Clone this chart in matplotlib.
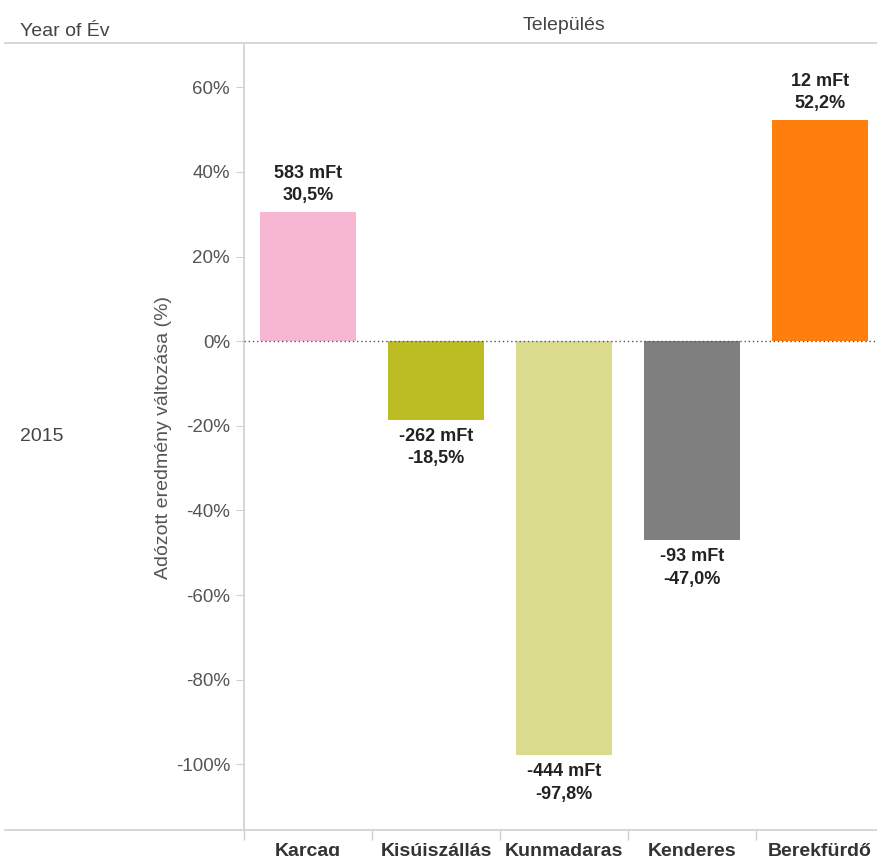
import matplotlib
matplotlib.use("Agg")
import matplotlib.pyplot as plt
from matplotlib.lines import Line2D
from matplotlib.ticker import FixedLocator

plt.rcParams['font.family'] = ['Liberation Sans', 'DejaVu Sans']

categories = ["Karcag", "Kisújszállás", "Kunmadaras", "Kenderes", "Berekfürdő"]
pct_change = [30.5, -18.5, -97.8, -47.0, 52.2]
mft_change = [583, -262, -444, -93, 12]
colors = ["#f7b6d2", "#bcbd22", "#dbdb8d", "#7f7f7f", "#ff7f0e"]
y_ticks = [60, 40, 20, 0, -20, -40, -60, -80, -100]
year_label = "2015"

W, H = 877, 856
fig = plt.figure(figsize=(W / 100, H / 100), dpi=100)

ax_left, ax_top, ax_bottom, ax_right = 244, 45, 830, 877
ax = fig.add_axes([ax_left / W, (H - ax_bottom) / H,
                   (ax_right - ax_left) / W, (ax_bottom - ax_top) / H])

x = list(range(len(categories)))
ax.bar(x, pct_change, width=0.75, color=colors, zorder=2)

ax.set_ylim(-115.5, 70)
ax.set_xlim(-0.5, -0.5 + (ax_right - ax_left) / 128)

ax.axhline(0, color="#555555", linestyle=(0, (1, 2)), linewidth=1, zorder=3)

for xi, p, m in zip(x, pct_change, mft_change):
    txt = f"{m} mFt\n{p:.1f}%".replace(".", ",")
    if p >= 0:
        ax.annotate(txt, (xi, p), xytext=(0, 6), textcoords="offset points",
                    ha="center", va="bottom", fontsize=13, fontweight="bold",
                    color="#222222", linespacing=1.4)
    else:
        ax.annotate(txt, (xi, p), xytext=(0, -6), textcoords="offset points",
                    ha="center", va="top", fontsize=13, fontweight="bold",
                    color="#222222", linespacing=1.4)

ax.set_yticks(y_ticks)
ax.set_yticklabels([f"{t}%" for t in y_ticks], fontsize=13.5, color="#555555")
ax.tick_params(axis="y", length=6, color="#d0d0d0", pad=4)

ax.set_xticks(x)
ax.set_xticklabels(categories, fontsize=14, fontweight="bold", color="#333333")
ax.tick_params(axis="x", which="major", length=0, pad=9)
ax.xaxis.set_minor_locator(FixedLocator([i - 0.5 for i in x]))
ax.tick_params(axis="x", which="minor", length=7, color="#d0d0d0", width=1)

for s in ["top", "right", "bottom"]:
    ax.spines[s].set_visible(False)
ax.spines["left"].set_color("#d0d0d0")
ax.spines["left"].set_linewidth(1.2)

ax.set_ylabel("Adózott eredmény változása (%)", fontsize=14, color="#555555")
ax.yaxis.set_label_coords((172 - ax_left) / (ax_right - ax_left), 0.5)

# header / frame lines
fig.add_artist(Line2D([5 / W, 1], [1 - 43 / H, 1 - 43 / H], color="#d0d0d0", linewidth=1.2))
fig.add_artist(Line2D([5 / W, 1], [1 - 830 / H, 1 - 830 / H], color="#d0d0d0", linewidth=1.2))

fig.text(20 / W, 1 - 32 / H, "Year of Év", fontsize=14, color="#444444", va="center", ha="left")
fig.text(564 / W, 1 - 26 / H, "Település", fontsize=14, color="#444444", va="center", ha="center")
fig.text(20 / W, 1 - 437 / H, year_label, fontsize=14, color="#444444", va="center", ha="left")

fig.savefig("out.png", dpi=100, facecolor="white")
